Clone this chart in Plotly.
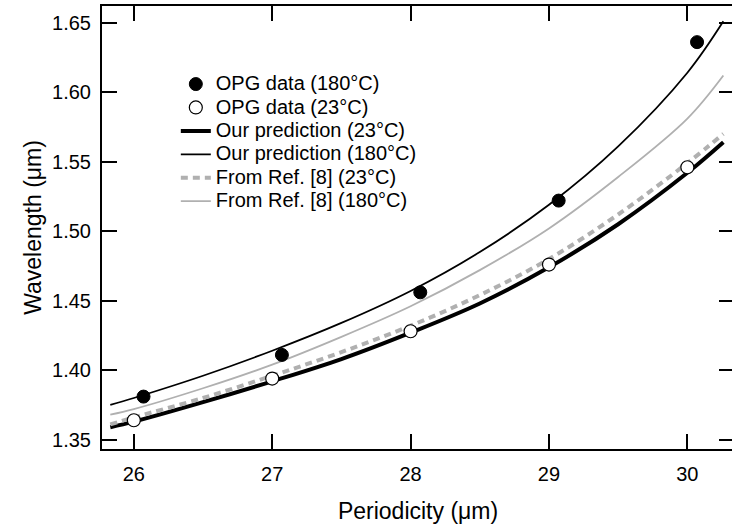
import plotly.graph_objects as go

# Measured data
opg_x_180 = [26.07, 27.07, 28.07, 29.07, 30.07]
opg_y_180 = [1.381, 1.411, 1.456, 1.522, 1.636]
opg_x_23 = [26.0, 27.0, 28.0, 29.0, 30.0]
opg_y_23 = [1.364, 1.394, 1.428, 1.476, 1.546]

# Curves
curve_x = [25.83, 26.0, 26.5, 27.0, 27.5, 28.0, 28.5, 29.0, 29.5, 30.0, 30.26]
pred_23 = [1.359, 1.363, 1.377, 1.392, 1.408, 1.427, 1.448, 1.474, 1.505, 1.542, 1.564]
pred_180 = [1.375, 1.380, 1.396, 1.414, 1.434, 1.457, 1.485, 1.519, 1.561, 1.614, 1.651]
ref_23 = [1.361, 1.366, 1.380, 1.396, 1.413, 1.432, 1.454, 1.480, 1.512, 1.549, 1.570]
ref_180 = [1.368, 1.372, 1.387, 1.404, 1.424, 1.446, 1.472, 1.502, 1.539, 1.581, 1.612]

x_ticks = [26, 27, 28, 29, 30]
y_ticks = [1.35, 1.40, 1.45, 1.50, 1.55, 1.60, 1.65]

font_family = "Liberation Sans, Arial, sans-serif"
GRAY = "#b0b0b0"


def big(s):
    return f'<span style="font-size:20px">{s}</span>'


fig = go.Figure()
fig.add_trace(go.Scatter(x=curve_x, y=pred_23, mode="lines", name=big("Our prediction (23°C)"),
                         legendrank=3, line=dict(color="black", width=4, shape="spline")))
fig.add_trace(go.Scatter(x=curve_x, y=pred_180, mode="lines", name=big("Our prediction (180°C)"),
                         legendrank=4, line=dict(color="black", width=1.8, shape="spline")))
fig.add_trace(go.Scatter(x=curve_x, y=ref_23, mode="lines", name=big("From Ref. [8] (23°C)"),
                         legendrank=5, line=dict(color=GRAY, width=4, dash="7px,5px", shape="spline")))
fig.add_trace(go.Scatter(x=curve_x, y=ref_180, mode="lines", name=big("From Ref. [8] (180°C)"),
                         legendrank=6, line=dict(color=GRAY, width=1.8, shape="spline")))
fig.add_trace(go.Scatter(x=opg_x_180, y=opg_y_180, mode="markers", name=big("OPG data (180°C)"),
                         legendrank=1,
                         marker=dict(symbol="circle", size=13, color="black",
                                     line=dict(color="black", width=1))))
fig.add_trace(go.Scatter(x=opg_x_23, y=opg_y_23, mode="markers", name=big("OPG data (23°C)"),
                         legendrank=2,
                         marker=dict(symbol="circle", size=13, color="white",
                                     line=dict(color="black", width=1.2))))

fig.update_layout(
    width=734, height=528,
    margin=dict(l=102, r=0, t=6, b=79, autoexpand=False),
    paper_bgcolor="white", plot_bgcolor="white",
    font=dict(family=font_family, size=20, color="black"),
    showlegend=True,
    legend=dict(x=0.1168, y=0.8615, xanchor="left", yanchor="top",
                bgcolor="rgba(0,0,0,0)", font=dict(size=15.7),
                traceorder="normal", tracegroupgap=0),
)

fig.update_xaxes(range=[25.77, 30.337], tickvals=x_ticks, ticktext=[str(v) for v in x_ticks],
                 ticks="inside", ticklen=15, tickwidth=1.8, tickcolor="black",
                 showline=True, linewidth=2, linecolor="black", mirror="ticks",
                 showgrid=False, zeroline=False, automargin=False, ticklabelstandoff=6,
                 tickfont=dict(size=20),
                 title=dict(text="Periodicity (μm)", font=dict(size=23), standoff=19))
fig.update_yaxes(range=[1.3433, 1.662], tickvals=y_ticks, ticktext=[f"{v:.2f}" for v in y_ticks],
                 ticks="inside", ticklen=15, tickwidth=1.8, tickcolor="black",
                 showline=True, linewidth=2, linecolor="black", mirror="ticks",
                 showgrid=False, zeroline=False, automargin=False, ticklabelstandoff=5,
                 tickfont=dict(size=20),
                 title=dict(text="Wavelength (μm)", font=dict(size=23), standoff=4))

fig.write_html("out.html", config={"displayModeBar": False},
               post_script="document.body.style.margin='0';document.body.style.overflow='hidden';")
